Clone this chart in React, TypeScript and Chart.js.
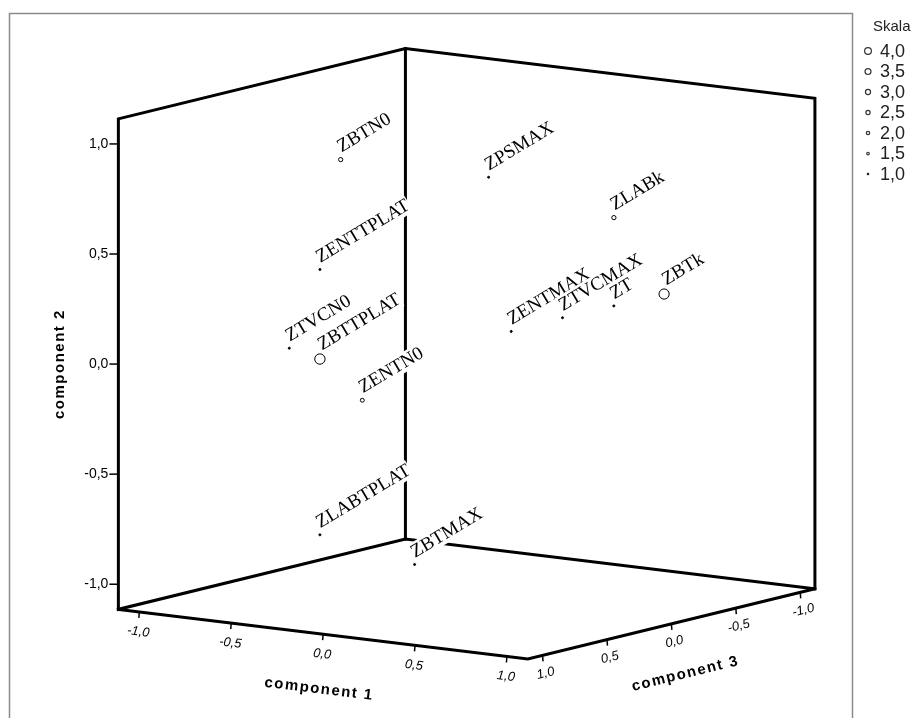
import React, { useEffect, useRef } from "react";
import { Chart, registerables } from "chart.js";

Chart.register(...registerables);

// ---- data (component loadings and size variable) ----
const variables = ["ZBTN0", "ZENTTPLAT", "ZTVCN0", "ZBTTPLAT", "ZENTN0", "ZLABTPLAT", "ZBTMAX", "ZPSMAX", "ZLABk", "ZENTMAX", "ZTVCMAX", "ZT", "ZBTk"];
const component1 = [-0.475, -0.658, -0.895, -0.518, -0.778, -0.588, -0.143, -0.231, 0.661, 0.523, 0.732, 0.871, 0.864];
const component2 = [0.877, 0.345, -0.051, -0.019, -0.333, -0.839, -0.943, 0.707, 0.657, 0.212, 0.281, 0.32, 0.316];
const component3 = [0.3, 0.2, 0.1, 0.4, -0.3, 0.3, 0.2, -0.5, -0.2, 0.4, 0.3, 0.1, -0.3];
const skala = [2.5, 1.2, 1.2, 6.1, 2.3, 1.2, 1.2, 1.2, 2.5, 1.2, 1.2, 1.2, 6.0];

const axisTicks = [-1, -0.5, 0, 0.5, 1];
const tickLabels = ["-1,0", "-0,5", "0,0", "0,5", "1,0"];
const legendValues = [4, 3.5, 3, 2.5, 2, 1.5, 1];
const legendLabels = ["4,0", "3,5", "3,0", "2,5", "2,0", "1,5", "1,0"];
const axisTitles = ["component 1", "component 2", "component 3"];
const legendTitle = "Skala";

// ---- view (oblique projection of the 3D cube into the 2D view space) ----
const EXT = 1.114;
const VIEW = { ox: 466.75, oy: 353.7, a1: 186.3, a3: -130.6, b1: 22.7, b2: -224, b3: 32.1 };
const proj = (c1: number, c2: number, c3: number) => ({
  x: VIEW.ox + VIEW.a1 * c1 + VIEW.a3 * c3,
  y: VIEW.oy + VIEW.b1 * c1 + VIEW.b2 * c2 + VIEW.b3 * c3,
});
const sizeToRadius = (v: number) => v * 0.85;

const SANS = '"Liberation Sans", Arial, sans-serif';
const SERIF = '"Liberation Serif", "Times New Roman", serif';

export default function App() {
  const ref = useRef<HTMLCanvasElement | null>(null);

  useEffect(() => {
    if (!ref.current) return;
    const E = EXT;
    const LB = proj(-E, -E, E);
    const LT = proj(-E, E, E);
    const BT = proj(-E, E, -E);
    const BB = proj(-E, -E, -E);
    const RT = proj(E, E, -E);
    const RB = proj(E, -E, -E);
    const FB = proj(E, -E, E);

    const pts = variables.map((_, i) => proj(component1[i], component2[i], component3[i]));
    const radii = skala.map(sizeToRadius);

    const lineDs = (data: { x: number; y: number }[]) => ({
      type: "line" as const,
      data,
      showLine: true,
      borderColor: "#000",
      borderWidth: 3,
      pointRadius: 0,
      borderCapStyle: "square" as const,
      borderJoinStyle: "miter" as const,
      tension: 0,
      fill: false,
      order: 2,
    });

    const decor = {
      id: "decor",
      beforeDraw(chart: any) {
        const ctx = chart.ctx;
        ctx.save();
        ctx.fillStyle = "#fff";
        ctx.fillRect(0, 0, chart.width, chart.height);
        ctx.strokeStyle = "#8a8a8a";
        ctx.lineWidth = 1.5;
        ctx.strokeRect(9.5, 13.5, 843, 760);
        ctx.restore();
      },
      beforeDatasetDraw(chart: any, args: any) {
        if (args.index !== 3) return;
        const ctx = chart.ctx;
        const xs = chart.scales.x;
        const ys = chart.scales.y;
        ctx.save();
        ctx.font = "19px " + SERIF;
        ctx.textBaseline = "alphabetic";
        ctx.textAlign = "left";
        variables.forEach((name, i) => {
          const px = xs.getPixelForValue(pts[i].x);
          const py = ys.getPixelForValue(pts[i].y);
          const r = radii[i];
          ctx.save();
          ctx.translate(px + r * 0.4, py - 6 - r * 0.5);
          ctx.rotate((-31 * Math.PI) / 180);
          const w = ctx.measureText(name).width;
          ctx.fillStyle = "#fff";
          ctx.fillRect(-1, -15, w + 2, 19);
          ctx.fillStyle = "#000";
          ctx.fillText(name, 0, 0);
          ctx.restore();
        });
        ctx.restore();
      },
      afterDatasetsDraw(chart: any) {
        const ctx = chart.ctx;
        const xs = chart.scales.x;
        const ys = chart.scales.y;
        const px = (p: { x: number; y: number }) => ({ x: xs.getPixelForValue(p.x), y: ys.getPixelForValue(p.y) });
        ctx.save();
        ctx.strokeStyle = "#000";
        ctx.fillStyle = "#000";
        ctx.lineWidth = 1.5;

        // component 2 (vertical axis on front-left edge)
        ctx.font = "14px " + SANS;
        ctx.textAlign = "right";
        ctx.textBaseline = "middle";
        axisTicks.forEach((t, k) => {
          const p = px(proj(-E, t, E));
          ctx.beginPath();
          ctx.moveTo(p.x - 9, p.y);
          ctx.lineTo(p.x, p.y);
          ctx.stroke();
          ctx.fillText(tickLabels[k], p.x - 10, p.y);
        });

        // component 1 axis (front-left floor edge)
        const ang1 = Math.atan2(VIEW.b1, VIEW.a1);
        axisTicks.forEach((t, k) => {
          const p = px(proj(t, -E, E));
          ctx.beginPath();
          ctx.moveTo(p.x, p.y);
          ctx.lineTo(p.x - 0.5, p.y + 6);
          ctx.stroke();
          ctx.save();
          ctx.translate(p.x - 1, p.y + 20);
          ctx.rotate(ang1);
          ctx.font = "italic 13px " + SANS;
          ctx.textAlign = "center";
          ctx.textBaseline = "middle";
          ctx.fillText(tickLabels[k], 0, 0);
          ctx.restore();
        });

        // component 3 axis (front-right floor edge)
        const ang3 = Math.atan2(-VIEW.b3, -VIEW.a3);
        axisTicks.forEach((t, k) => {
          const p = px(proj(E, -E, t));
          ctx.beginPath();
          ctx.moveTo(p.x, p.y);
          ctx.lineTo(p.x + 0.5, p.y + 6);
          ctx.stroke();
          ctx.save();
          ctx.translate(p.x + 3, p.y + 18);
          ctx.rotate(ang3);
          ctx.font = "italic 13px " + SANS;
          ctx.textAlign = "center";
          ctx.textBaseline = "middle";
          ctx.fillText(tickLabels[k], 0, 0);
          ctx.restore();
        });

        // axis titles
        const titleFont = "bold 15px " + SANS;
        (ctx as any).letterSpacing = "1.5px";
        {
          const p = px(proj(0, -E, E));
          ctx.save();
          ctx.translate(p.x - 4, p.y + 55);
          ctx.rotate(ang1);
          ctx.font = titleFont;
          ctx.textAlign = "center";
          ctx.textBaseline = "middle";
          ctx.fillText(axisTitles[0], 0, 0);
          ctx.restore();
        }
        {
          const p = px(proj(-E, 0, E));
          ctx.save();
          ctx.translate(p.x - 59, p.y);
          ctx.rotate(-Math.PI / 2);
          ctx.font = titleFont;
          ctx.textAlign = "center";
          ctx.textBaseline = "middle";
          ctx.fillText(axisTitles[1], 0, 0);
          ctx.restore();
        }
        {
          const p = px(proj(E, -E, 0));
          ctx.save();
          ctx.translate(p.x + 14, p.y + 50);
          ctx.rotate(ang3);
          ctx.font = titleFont;
          ctx.textAlign = "center";
          ctx.textBaseline = "middle";
          ctx.fillText(axisTitles[2], 0, 0);
          ctx.restore();
        }
        (ctx as any).letterSpacing = "0px";

        // size legend
        ctx.textAlign = "left";
        ctx.textBaseline = "middle";
        ctx.font = "15px " + SANS;
        ctx.fillStyle = "#222";
        ctx.fillText(legendTitle, 873, 27);
        ctx.font = "18px " + SANS;
        ctx.lineWidth = 1.2;
        ctx.strokeStyle = "#333";
        legendValues.forEach((v, k) => {
          const y = 51 + k * 20.5;
          const r = sizeToRadius(v);
          ctx.beginPath();
          if (v <= 1) {
            ctx.arc(868, y, 1.3, 0, Math.PI * 2);
            ctx.fillStyle = "#222";
            ctx.fill();
          } else {
            ctx.arc(868, y, r, 0, Math.PI * 2);
            ctx.stroke();
          }
          ctx.fillStyle = "#222";
          ctx.fillText(legendLabels[k], 880, y + 1);
        });
        ctx.restore();
      },
    };

    const chart = new Chart(ref.current, {
      type: "scatter",
      data: {
        datasets: [
          lineDs([LB, LT, BT, RT, RB, FB, LB]) as any,
          lineDs([LB, BB, RB]) as any,
          lineDs([BT, BB]) as any,
          {
            type: "scatter",
            data: pts,
            pointRadius: radii,
            pointHoverRadius: radii,
            pointBorderWidth: 1,
            pointBorderColor: "#000",
            pointBackgroundColor: skala.map((v) => (v <= 1.5 ? "#000" : "#fff")),
            showLine: false,
            order: 0,
          } as any,
        ],
      },
      options: {
        responsive: false,
        maintainAspectRatio: false,
        animation: false,
        layout: { padding: 0 },
        events: [],
        plugins: { legend: { display: false }, tooltip: { enabled: false } },
        scales: {
          x: { type: "linear", min: 0, max: 918, display: false },
          y: { type: "linear", min: 0, max: 718, reverse: true, display: false },
        },
      },
      plugins: [decor],
    });
    return () => chart.destroy();
  }, []);

  return (
    <div style={{ position: "absolute", left: 0, top: 0, width: 918, height: 718, background: "#fff" }}>
      <canvas ref={ref} width={918} height={718} style={{ display: "block", width: 918, height: 718 }} />
    </div>
  );
}
